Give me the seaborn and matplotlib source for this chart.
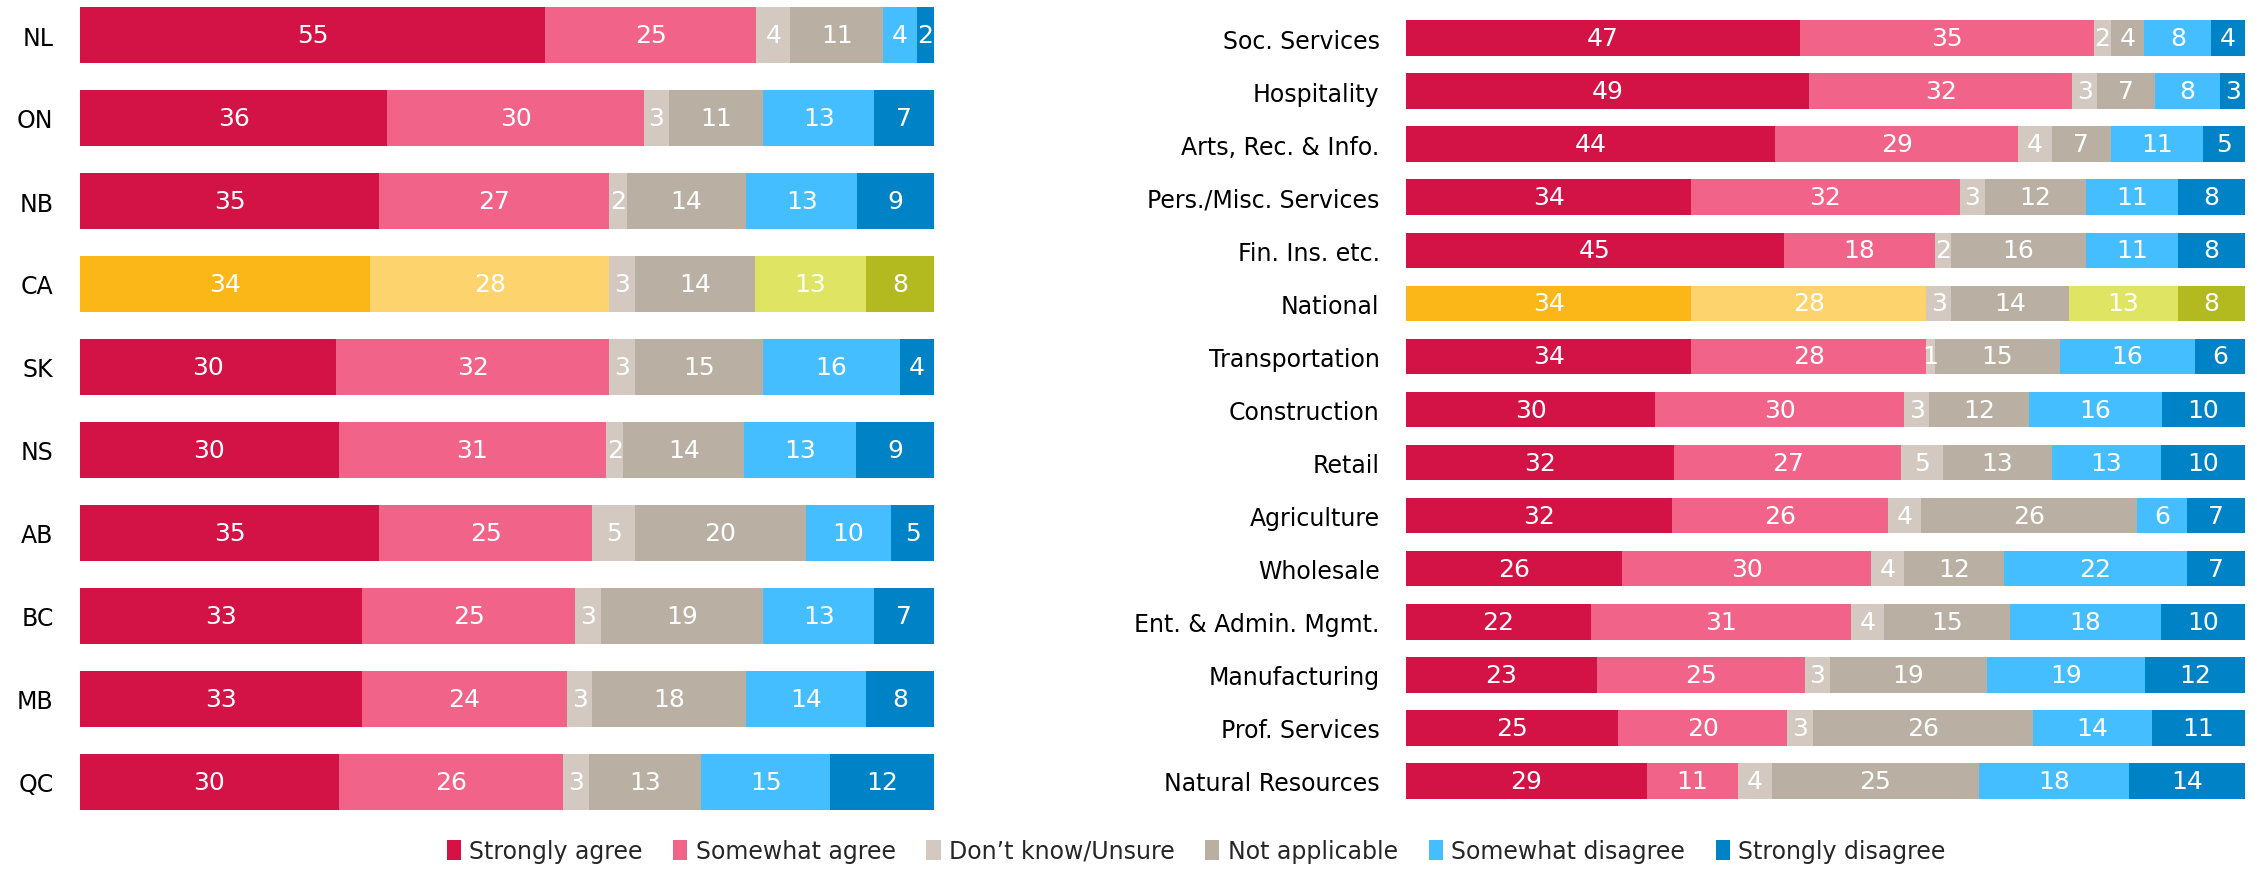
import numpy as np
import pandas as pd
import matplotlib
matplotlib.use("Agg")
import matplotlib.pyplot as plt
import seaborn as sns
from matplotlib.patches import Patch

sns.set_theme(style="white")
plt.rcParams['font.family'] = ['DejaVu Sans']

series = ["Strongly agree", "Somewhat agree", "Don\u2019t know/Unsure",
          "Not applicable", "Somewhat disagree", "Strongly disagree"]

# Left panel: provinces
prov = ["NL", "ON", "NB", "CA", "SK", "NS", "AB", "BC", "MB", "QC"]
prov_strong_agree = [55, 36, 35, 34, 30, 30, 35, 33, 33, 30]
prov_some_agree   = [25, 30, 27, 28, 32, 31, 25, 25, 24, 26]
prov_dont_know    = [4, 3, 2, 3, 3, 2, 5, 3, 3, 3]
prov_not_appl     = [11, 11, 14, 14, 15, 14, 20, 19, 18, 13]
prov_some_dis     = [4, 13, 13, 13, 16, 13, 10, 13, 14, 15]
prov_strong_dis   = [2, 7, 9, 8, 4, 9, 5, 7, 8, 12]

# Right panel: industries
ind = ["Soc. Services", "Hospitality", "Arts, Rec. & Info.", "Pers./Misc. Services",
       "Fin. Ins. etc.", "National", "Transportation", "Construction", "Retail",
       "Agriculture", "Wholesale", "Ent. & Admin. Mgmt.", "Manufacturing",
       "Prof. Services", "Natural Resources"]
ind_strong_agree = [47, 49, 44, 34, 45, 34, 34, 30, 32, 32, 26, 22, 23, 25, 29]
ind_some_agree   = [35, 32, 29, 32, 18, 28, 28, 30, 27, 26, 30, 31, 25, 20, 11]
ind_dont_know    = [2, 3, 4, 3, 2, 3, 1, 3, 5, 4, 4, 4, 3, 3, 4]
ind_not_appl     = [4, 7, 7, 12, 16, 14, 15, 12, 13, 26, 12, 15, 19, 26, 25]
ind_some_dis     = [8, 8, 11, 11, 11, 13, 16, 16, 13, 6, 22, 18, 19, 14, 18]
ind_strong_dis   = [4, 3, 5, 8, 8, 8, 6, 10, 10, 7, 7, 10, 12, 11, 14]

highlight = {"CA", "National"}

normal_colors = ["#D31245", "#F2638A", "#D3C9C1", "#B9AFA3", "#45BEFF", "#0082C6"]
hl_colors     = ["#FBB617", "#FDD36E", "#D3C9C1", "#B9AFA3", "#DFE563", "#B2BA1F"]

fig = plt.figure(figsize=(22.57, 8.70), dpi=100)
W, H = 2257, 870


def draw(ax, cats, cols):
    vals = np.array(cols, dtype=float).T  # rows x series
    totals = vals.sum(axis=1, keepdims=True)
    norm = vals / totals * 100.0
    cum = np.cumsum(norm, axis=1)
    n = len(cats)
    # draw from last cumulative to first so earlier segments overlay
    for j in range(len(series) - 1, -1, -1):
        df = pd.DataFrame({"cat": cats, "x": cum[:, j]})
        pal = {c: (hl_colors[j] if c in highlight else normal_colors[j]) for c in cats}
        sns.barplot(data=df, x="x", y="cat", hue="cat", palette=pal, order=cats,
                    hue_order=cats, orient="h", width=0.67, legend=False,
                    saturation=1, ax=ax, linewidth=0, dodge=False)
    for i in range(n):
        for j in range(len(series)):
            start = cum[i, j] - norm[i, j]
            ax.text(start + norm[i, j] / 2, i, f"{int(vals[i, j])}", ha="center",
                    va="center", color="white", fontsize=18)
    ax.set_xlim(0, 100)
    ax.set_ylim(n - 1 + 0.4, -0.4)
    ax.set_xlabel("")
    ax.set_ylabel("")
    ax.set_xticks([])
    ax.tick_params(axis="y", length=0, pad=19, labelsize=17, labelcolor="black")
    for s in ax.spines.values():
        s.set_visible(False)
    ax.patch.set_alpha(0)


# left axes
lt_px, lb_px = 36 - 0.4 * 83, 783 + 0.4 * 83
axL = fig.add_axes([80 / W, 1 - lb_px / H, (934 - 80) / W, (lb_px - lt_px) / H])
draw(axL, prov, [prov_strong_agree, prov_some_agree, prov_dont_know,
                 prov_not_appl, prov_some_dis, prov_strong_dis])

pitch = (782 - 39) / 14
rt_px, rb_px = 39 - 0.4 * pitch, 782 + 0.4 * pitch
axR = fig.add_axes([1406 / W, 1 - rb_px / H, (2245 - 1406) / W, (rb_px - rt_px) / H])
draw(axR, ind, [ind_strong_agree, ind_some_agree, ind_dont_know,
                ind_not_appl, ind_some_dis, ind_strong_dis])

handles = [Patch(facecolor=c, edgecolor="none", label=s) for c, s in zip(normal_colors, series)]
fig.legend(handles=handles, loc="center", bbox_to_anchor=(1196 / W, 1 - 852 / H),
           ncol=6, frameon=False, fontsize=17, handlelength=0.6, handleheight=0.9,
           handletextpad=0.35, columnspacing=1.3)

fig.savefig("out.png", dpi=100)
